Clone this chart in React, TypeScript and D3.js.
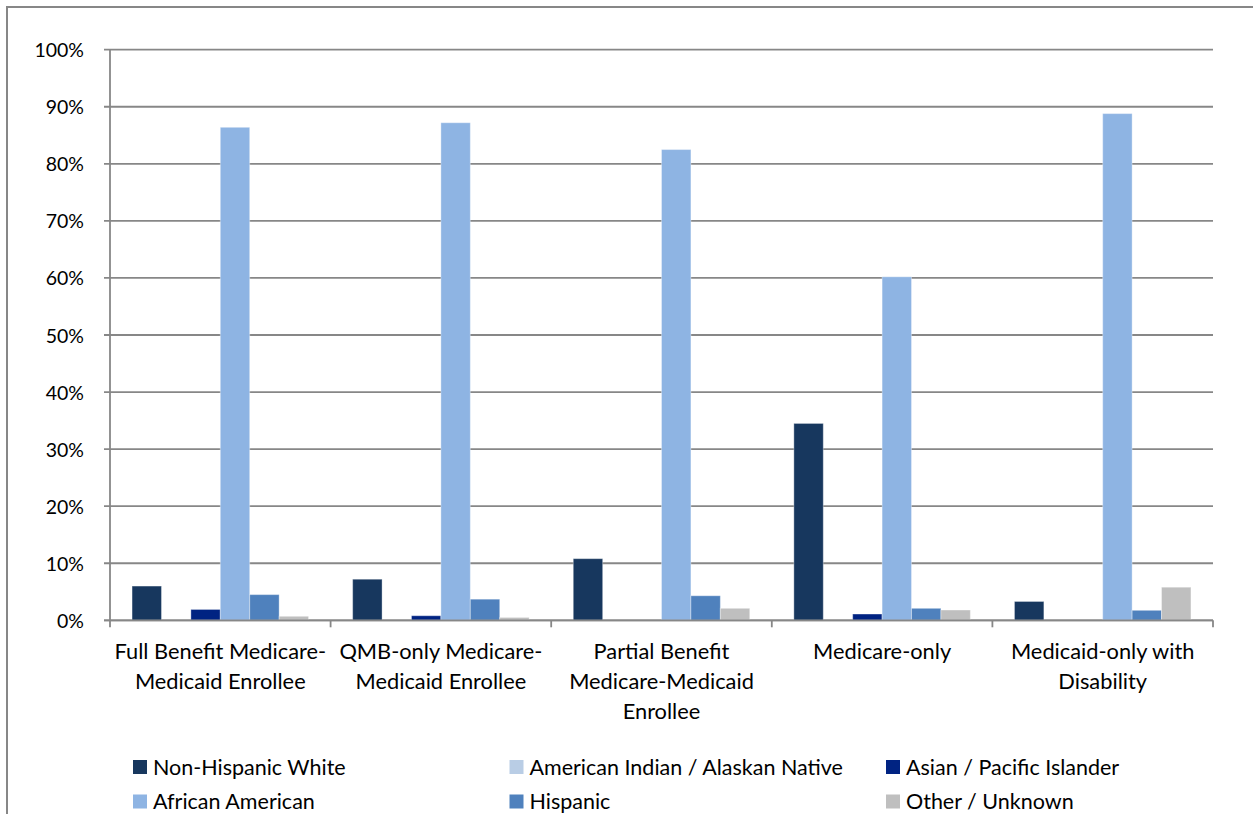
import React from 'react';
import * as d3 from 'd3';

const categories = [
  'Full Benefit Medicare-Medicaid Enrollee',
  'QMB-only Medicare-Medicaid Enrollee',
  'Partial Benefit Medicare-Medicaid Enrollee',
  'Medicare-only',
  'Medicaid-only with Disability',
];

// how each category label wraps under the axis
const categoryLines = [
  ['Full Benefit Medicare-', 'Medicaid Enrollee'],
  ['QMB-only Medicare-', 'Medicaid Enrollee'],
  ['Partial Benefit', 'Medicare-Medicaid', 'Enrollee'],
  ['Medicare-only'],
  ['Medicaid-only with', 'Disability'],
];

const seriesNames = [
  'Non-Hispanic White',
  'American Indian / Alaskan Native',
  'Asian / Pacific Islander',
  'African American',
  'Hispanic',
  'Other / Unknown',
];

const seriesColors = ['#17375E', '#B9CDE5', '#002382', '#8EB4E3', '#4F81BD', '#BFBFBF'];

// percent values, one array per series, in category order
const nonHispanicWhite = [6.0, 7.2, 10.8, 34.5, 3.3];
const americanIndian = [0, 0, 0, 0, 0];
const asianPacific = [1.9, 0.8, 0, 1.1, 0];
const africanAmerican = [86.4, 87.2, 82.5, 60.2, 88.8];
const hispanic = [4.5, 3.7, 4.3, 2.1, 1.75];
const otherUnknown = [0.7, 0.5, 2.1, 1.8, 5.8];

const seriesValues = [nonHispanicWhite, americanIndian, asianPacific, africanAmerican, hispanic, otherUnknown];

const yTicks = [0, 10, 20, 30, 40, 50, 60, 70, 80, 90, 100];

const W = 1253;
const H = 814;
const FONT = 'Lato, "Open Sans", sans-serif';
const GRID = '#878787';

export default function App() {
  const left = 110;
  const right = 1213;
  const top = 49.7;
  const bottom = 620.3;

  const x0 = d3.scaleBand<string>().domain(categories).range([left, right]).paddingInner(0).paddingOuter(0);
  const x1 = d3
    .scaleBand<string>()
    .domain(seriesNames)
    .range([0, x0.bandwidth()])
    .paddingInner(0)
    .paddingOuter(0.75);
  const y = d3.scaleLinear().domain([0, 100]).range([bottom, top]);

  const legendCols = [133, 509.5, 886];
  const legendRows = [767, 801.5];

  return (
    <svg
      width={W}
      height={H}
      style={{ position: 'absolute', left: 0, top: 0, background: '#fff' }}
      fontFamily={FONT}
    >
      {/* chart frame (runs off the right and bottom of the picture) */}
      <rect x={7} y={7} width={W + 20} height={H + 20} fill="#fff" stroke={GRID} strokeWidth={2} />

      {/* gridlines and y labels */}
      {yTicks.map(t => (
        <g key={t}>
          <line x1={left - 6} x2={right} y1={y(t)} y2={y(t)} stroke={GRID} strokeWidth={1.8} />
          <text x={84} y={y(t) + 7.5} textAnchor="end" fontSize={19.5} fill="#000">
            {t}%
          </text>
        </g>
      ))}

      {/* y axis */}
      <line x1={left} x2={left} y1={top} y2={bottom} stroke={GRID} strokeWidth={1.8} />

      {/* bars */}
      {categories.map((c, ci) => (
        <g key={c} transform={`translate(${x0(c)},0)`}>
          {seriesNames.map((s, si) => {
            const v = seriesValues[si][ci];
            if (!v) return null;
            return (
              <rect
                key={s}
                x={x1(s)}
                y={y(v)}
                width={x1.bandwidth()}
                height={y(0) - y(v)}
                fill={seriesColors[si]}
                stroke="#fff"
                strokeOpacity={0.35}
                strokeWidth={1}
              />
            );
          })}
        </g>
      ))}

      {/* x axis with category ticks */}
      <line x1={left - 6} x2={right} y1={bottom} y2={bottom} stroke={GRID} strokeWidth={1.8} />
      {[...categories.map(c => x0(c)!), right].map((xv, i) => (
        <line key={i} x1={xv} x2={xv} y1={bottom} y2={bottom + 7} stroke={GRID} strokeWidth={1.8} />
      ))}

      {/* category labels */}
      {categories.map((c, ci) => (
        <text key={c} textAnchor="middle" fontSize={21.8} fill="#000">
          {categoryLines[ci].map((ln, li) => (
            <tspan key={li} x={x0(c)! + x0.bandwidth() / 2} y={659 + li * 30}>
              {ln}
            </tspan>
          ))}
        </text>
      ))}

      {/* legend */}
      {seriesNames.map((s, si) => {
        const lx = legendCols[si % 3];
        const ly = legendRows[Math.floor(si / 3)];
        return (
          <g key={s}>
            <rect x={lx} y={ly - 7} width={14} height={14} fill={seriesColors[si]} />
            <text x={lx + 20} y={ly + 7.5} fontSize={21.5} fill="#000">
              {s}
            </text>
          </g>
        );
      })}
    </svg>
  );
}
